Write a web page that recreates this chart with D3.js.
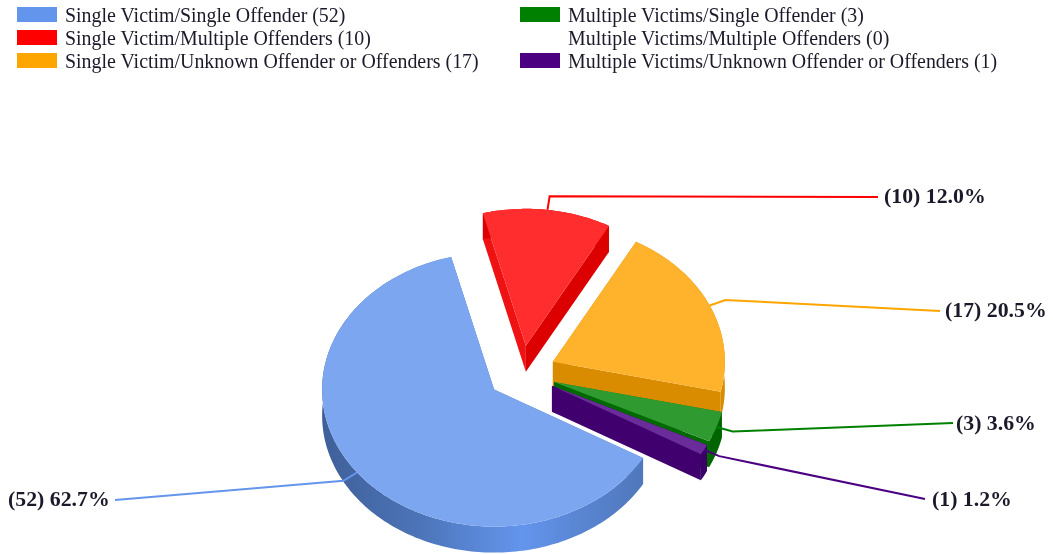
<!DOCTYPE html>
<html><head><meta charset="utf-8">
<script src="https://d3js.org/d3.v7.min.js"></script>
<style>html,body{margin:0;padding:0;background:#fff}svg{display:block;filter:blur(.4px)}text{font-family:"Liberation Serif",serif;fill:#1a1a2a}</style>
</head><body><svg id="c" width="1053" height="554"></svg>
<script>
// Data
const categories = ["Single Victim/Single Offender","Single Victim/Multiple Offenders","Single Victim/Unknown Offender or Offenders","Multiple Victims/Single Offender","Multiple Victims/Multiple Offenders","Multiple Victims/Unknown Offender or Offenders"];
const counts = [52,10,17,3,0,1];
const percentLabels = ["62.7%","12.0%","20.5%","3.6%","0.0%","1.2%"];
const legendColors = ["#6495ed","#ff0000","#ffa500","#008000","#ffffff","#4b0082"];
const topColors = ["#7ca6f0","#ff2d2d","#ffb22b","#2e9a30","#ffffff","#6b2c9b"];
const leftFaceColors = ["#5078bd","#ee1212","#d98c00","#1f7f1f","#ffffff","#40006e"];
const wallColors = ["#5078bd","#dd0000","#d98c00","#006400","#ffffff","#3a0068"];
const rightFaceColors = ["#5078bd","#dd0000","#d98c00","#006a00","#ffffff","#40006e"];
// Layout (label end of each leader line)
const labelAnchors = [[115,500],[878,197],[940,311],[953,423],null,[925,499]];
const labelTextX = [8,884,945,956,null,932];
const labelTextY = [499,196,310,423,null,499];
const C={x:521.5,y:373}, RX=172, RY=137, DEPTH=26, EXPLODE=0.2, START=120*Math.PI/180;

const svg=d3.select("#c");
const defs=svg.append("defs");
const sx=d3.scaleLinear().domain([-1,1]).range([-RX,RX]);
const sy=d3.scaleLinear().domain([-1,1]).range([-RY,RY]);
const proj=(a,r=1)=>[sx(Math.sin(a)*r),sy(-Math.cos(a)*r)];
const line=d3.line();
const pie=d3.pie().value(d=>d).sort(null).startAngle(START).endAngle(START+2*Math.PI);
const arcs=pie(counts);

// blue wall gradient (in slice-local coordinates)
const g0=defs.append("linearGradient").attr("id","wall0").attr("gradientUnits","userSpaceOnUse")
  .attr("x1",-RX).attr("x2",RX*0.88).attr("y1",0).attr("y2",0);
[[0,"#3f6099"],[.3,"#4c74b8"],[.62,"#6495ed"],[.78,"#5a86d4"],[1,"#4f77ba"]].forEach(s=>g0.append("stop").attr("offset",s[0]).attr("stop-color",s[1]));

const chart=svg.append("g");
arcs.forEach((d,i)=>{
  if(d.value===0) return;
  const mid=(d.startAngle+d.endAngle)/2;
  const off=proj(mid,EXPLODE);
  const ax=C.x+off[0], ay=C.y+off[1];
  const g=chart.append("g").attr("transform",`translate(${ax},${ay})`);
  const n=Math.max(4,Math.ceil((d.endAngle-d.startAngle)/0.02));
  const rim=d3.range(n+1).map(k=>proj(d.startAngle+(d.endAngle-d.startAngle)*k/n));
  const drop=p=>[p[0],p[1]+DEPTH];
  const s=rim[0], e=rim[n];
  // radial faces
  g.append("path").attr("d",line([[0,0],s,drop(s),[0,DEPTH]])+"Z").attr("fill",leftFaceColors[i]);
  g.append("path").attr("d",line([[0,0],e,drop(e),[0,DEPTH]])+"Z").attr("fill",rightFaceColors[i]);
  // outer wall
  g.append("path").attr("d",line(rim.concat(rim.slice().reverse().map(drop)))+"Z")
    .attr("fill",i===0?"url(#wall0)":wallColors[i]);
  // top face
  g.append("path").attr("d",line([[0,0],...rim])+"Z").attr("fill",topColors[i]);
});

// leader lines
const lines=svg.append("g").attr("fill","none").attr("stroke-width",2);
arcs.forEach((d,i)=>{
  if(d.value===0) return;
  const mid=(d.startAngle+d.endAngle)/2;
  const off=proj(mid,EXPLODE), p=proj(mid,1), q=proj(mid,1.1);
  const P=[C.x+off[0]+p[0],C.y+off[1]+p[1]], Q=[C.x+off[0]+q[0],C.y+off[1]+q[1]];
  lines.append("path").attr("d",line([P,Q,labelAnchors[i]])).attr("stroke",legendColors[i]);
  svg.append("text").attr("x",labelTextX[i]).attr("y",labelTextY[i]).attr("dy","0.32em")
    .attr("font-size",21.8).attr("font-weight","bold").text(`(${d.value}) ${percentLabels[i]}`);
});

// legend
const rowY=d3.scaleBand().domain([0,1,2]).range([3,72]);
const colX=d3.scaleOrdinal().domain([0,1]).range([17,520]);
const lg=svg.append("g");
categories.forEach((c,i)=>{
  const col=Math.floor(i/3), row=i%3, x=colX(col), y=rowY(row);
  if(counts[i]>0) lg.append("rect").attr("x",x).attr("y",y+4).attr("width",40).attr("height",15).attr("fill",legendColors[i]);
  lg.append("text").attr("x",x+48).attr("y",y+12.5).attr("dy","0.32em").attr("font-size",19.9).text(`${c} (${counts[i]})`);
});
</script></body></html>
